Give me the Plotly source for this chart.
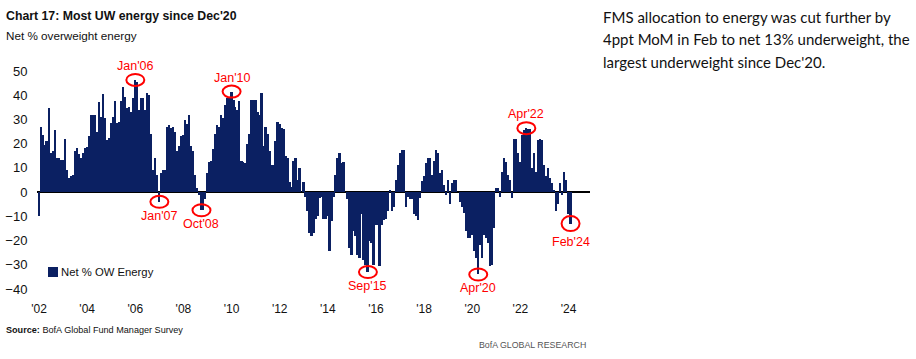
import plotly.graph_objects as go
import pandas as pd

# ---------------- data (net % overweight energy, monthly from Jan 2002) ----------------
y2002 = [-10, 27, 23.6, 19.5, 21, 34.6, 16, 16.8, 25.7, 14, 14, 13.3]
y2003 = [13.3, 22, 9.2, 5.8, 6.5, 6.9, 16.8, 18.4, 15.7, 14, 16, 18.4]
y2004 = [18.7, 23, 31.9, 32, 32, 25, 37.4, 31, 40.4, 30.5, 21.6, 22.3]
y2005 = [28.4, 31, 37.6, 28.4, 29, 37.6, 43.5, 39.4, 34.6, 35, 33, 38.7]
y2006 = [46.3, 45.6, 34, 38.7, 39, 34, 41, 40, 24, 9, 14, 7]
y2007 = [-4, 8, 9, 9, 27, 27.7, 26.4, 27, 25, 17, 19, 23]
y2008 = [23.6, 29.8, 28, 32, 19, 17, 7, 1.6, -1, -7.5, -7.5, -3]
y2009 = [8, 12.6, 13, 18, 24, 27.7, 27, 32, 30.5, 36, 38.7, 39]
y2010 = [41.5, 38, 35, 34, 37.6, 13, 12.6, 12, 20, 24, 38, 38]
y2011 = [38, 33, 32, 41, 19, 27, 24, 17, 11, 11, 21, 29]
y2012 = [28, 26.5, 26, 15, 14, 4, 2, 13, 14, 5, 10, 0]
y2013 = [4, -2, -8, -17, -18, -17, -11, -10, -2.5, -2, -11, -11]
y2014 = [-10, -24.5, -12, -2, 7, 14, 16, 12, 12.6, 0, -3, -23]
y2015 = [-26, -16, -18, -26, -27, -9, -28, -30, -33, -20, -21, -30]
y2016 = [-13.5, -13.5, -30.5, -13.5, -11.4, -11, -8, 1, -8, -6, 5, 11]
y2017 = [16, 17.4, 17.4, -6, -2, -3, -3, -9, -10, -11.4, -2.5, 4.4]
y2018 = [6.5, 12, 14, 14, 7, 13, 17.4, 16, 8, 9, 3, -1]
y2019 = [5, -5, 3.7, 5, 5, 0, -4, -6, -8.7, -16, -19, -19]
y2020 = [-17.6, -24.5, -27, -34, -22, -27, -17.6, -19, -21, -30.5, -30, -15]
y2021 = [1.6, 1.6, -2, 8.5, 14, 12.6, 7, 5, -2.5, 22, 22, 16]
y2022 = [12.6, 23.6, 25.7, 26.4, 26, 26, 10, 16, 8.5, 21.6, 22, 21.6]
y2023 = [11, 6.5, 10, 5.8, 3.7, 1, -8, -5, 3.7, -1, 8.5, 5]
y2024 = [-9, -13]

values = (y2002 + y2003 + y2004 + y2005 + y2006 + y2007 + y2008 + y2009 + y2010 + y2011
          + y2012 + y2013 + y2014 + y2015 + y2016 + y2017 + y2018 + y2019 + y2020
          + y2021 + y2022 + y2023 + y2024)
dates = pd.date_range("2002-01-01", periods=len(values), freq="MS")

tick_years = list(range(2002, 2025, 2))
tick_labels = ["'%02d" % (y % 100) for y in tick_years]

callouts = [("2006-01-01", "Jan'06", "above"), ("2007-01-01", "Jan'07", "below"),
            ("2008-10-01", "Oct'08", "below"), ("2010-01-01", "Jan'10", "above"),
            ("2015-09-01", "Sep'15", "below"), ("2020-04-01", "Apr'20", "below"),
            ("2022-04-01", "Apr'22", "above"), ("2024-02-01", "Feb'24", "below")]

series_name = "Net % OW Energy"
title = "Chart 17: Most UW energy since Dec'20"
subtitle = "Net % overweight energy"
side_text = ["FMS allocation to energy was cut further by",
             "4ppt MoM in Feb to net 13% underweight, the",
             "largest underweight since Dec'20."]
source = "<b>Source:</b> BofA Global Fund Manager Survey"
brand = "BofA GLOBAL RESEARCH"

# ---------------- styling ----------------
NAVY = "#0b2062"
RED = "#ff0000"
FONT = "Liberation Sans, Arial, sans-serif"
W, H = 916, 359
L, R, T, B = 37, 590, 71, 289

def px(x):
    return (x - L) / (R - L)

def py(y):
    return (B - y) / (B - T)

lookup = dict(zip(dates.strftime("%Y-%m-%d"), values))

fig = go.Figure()
fig.add_trace(go.Bar(x=dates, y=values, name=series_name, marker_color=NAVY,
                     marker_line_width=0, width=[29 * 86400000] * len(values),
                     showlegend=False))

shapes = []
annotations = []
for d, lab, pos in callouts:
    v = lookup[d]
    hh = 7.5 if lab == "Feb'24" else 6
    shapes.append(dict(type="circle", xref="x", yref="y", xsizemode="pixel", ysizemode="pixel",
                       xanchor=d, yanchor=v, x0=-9, x1=9, y0=-hh, y1=hh,
                       line=dict(color=RED, width=2)))
    shift = 14 if pos == "above" else -(14 if lab != "Feb'24" else 18)
    annotations.append(dict(x=d, y=v, xref="x", yref="y", text=lab, showarrow=False,
                            yshift=shift, font=dict(family=FONT, size=12.5, color=RED)))

# legend key (square + label)
shapes.append(dict(type="rect", xref="paper", yref="paper", x0=px(48), x1=px(58),
                   y0=py(277), y1=py(267), fillcolor=NAVY, line=dict(width=0)))
annotations.append(dict(x=px(59), y=py(271.5), xref="paper", yref="paper", xanchor="left",
                        yanchor="middle", text=series_name, showarrow=False,
                        font=dict(family=FONT, size=11.3, color="#111")))

annotations.append(dict(x=px(4), y=py(16), xref="paper", yref="paper", xanchor="left",
                        yanchor="middle", text="<b>%s</b>" % title, showarrow=False,
                        font=dict(family=FONT, size=12.3, color="#111")))
annotations.append(dict(x=px(4), y=py(35), xref="paper", yref="paper", xanchor="left",
                        yanchor="middle", text=subtitle, showarrow=False,
                        font=dict(family=FONT, size=11.7, color="#111")))
for i, line in enumerate(side_text):
    annotations.append(dict(x=px(601), y=py(17 + 22.5 * i), xref="paper", yref="paper",
                            xanchor="left", yanchor="middle", text=line, showarrow=False,
                            font=dict(family="Lato, Liberation Sans, sans-serif", size=15,
                                      color="#111")))
annotations.append(dict(x=px(4), y=py(330), xref="paper", yref="paper", xanchor="left",
                        yanchor="middle", showarrow=False, text=source,
                        font=dict(family=FONT, size=9.1, color="#111")))
annotations.append(dict(x=px(588), y=py(345), xref="paper", yref="paper", xanchor="right",
                        yanchor="middle", showarrow=False, text=brand,
                        font=dict(family=FONT, size=8.8, color="#555")))

fig.update_layout(
    width=W, height=H, margin=dict(l=L, r=W - R, t=T, b=H - B),
    paper_bgcolor="white", plot_bgcolor="white", bargap=0, showlegend=False,
    shapes=shapes, annotations=annotations,
    xaxis=dict(type="date", range=["2001-12-01", "2024-11-22"], showgrid=False,
               zeroline=False, showline=False, tickmode="array",
               tickvals=["%d-01-01" % y for y in tick_years], ticktext=tick_labels,
               ticks="outside", ticklen=9, tickcolor="rgba(0,0,0,0)", automargin=False,
               tickfont=dict(family=FONT, size=12, color="#111")),
    yaxis=dict(range=[-40, 50], tickmode="array", tickvals=list(range(-40, 60, 10)),
               showgrid=False, zeroline=True, zerolinecolor="#000", zerolinewidth=1.5,
               showline=False, ticks="outside", ticklen=6, tickcolor="rgba(0,0,0,0)",
               automargin=False, tickfont=dict(family=FONT, size=13, color="#111")),
)

fig.write_html("out.html", config={"displayModeBar": False},
               post_script="document.body.style.margin='0px';")
